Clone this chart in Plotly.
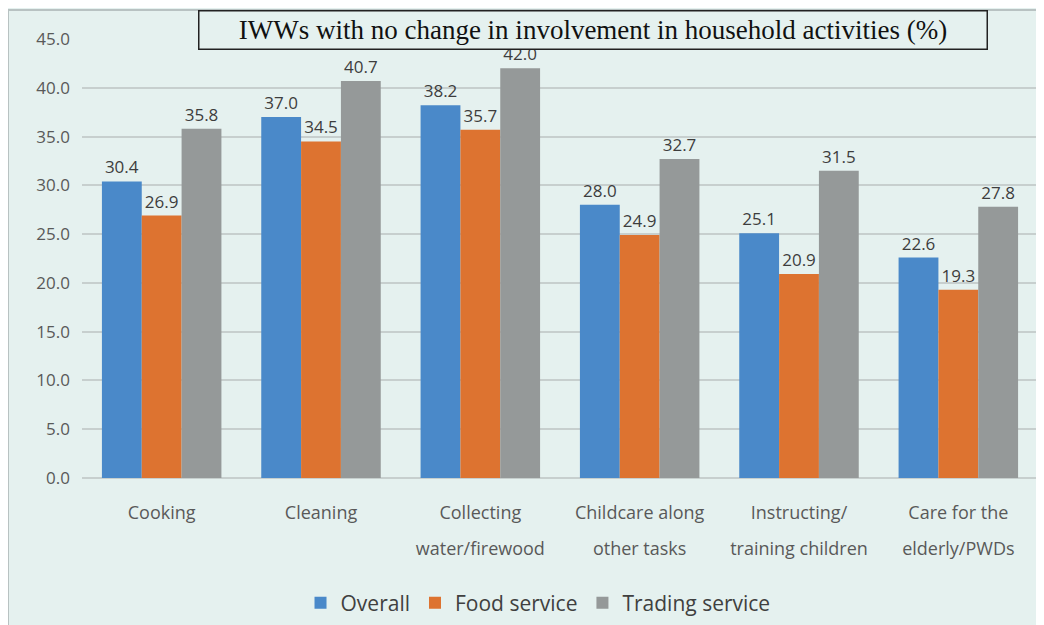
import plotly.graph_objects as go

line1 = ["Cooking", "Cleaning", "Collecting", "Childcare along", "Instructing/", "Care for the"]
line2 = ["", "", "water/firewood", "other tasks", "training children", "elderly/PWDs"]
overall = [30.4, 37.0, 38.2, 28.0, 25.1, 22.6]
food_service = [26.9, 34.5, 35.7, 24.9, 20.9, 19.3]
trading_service = [35.8, 40.7, 42.0, 32.7, 31.5, 27.8]

series = [("Overall", overall, "#4a89c9"),
          ("Food service", food_service, "#dd7330"),
          ("Trading service", trading_service, "#959999")]

bg = "#e5f1ef"
idx = list(range(len(line1)))
fig = go.Figure()
for name, vals, col in series:
    fig.add_trace(go.Bar(x=idx, y=vals, name=name, marker_color=col, marker_line_width=0,
                         text=[f"{v:.1f}" for v in vals], textposition="outside",
                         textfont=dict(size=17, color="#3d3d3d"), cliponaxis=False))

# page has an 8px body margin, so the margins are shifted by that
fig.update_layout(
    width=1044, height=625,
    paper_bgcolor=bg, plot_bgcolor=bg,
    margin=dict(l=74, r=14, t=31, b=155),
    barmode="group", bargap=0.25, bargroupgap=0,
    font=dict(family="Open Sans, DejaVu Sans, sans-serif", color="#595959"),
    showlegend=True,
    legend=dict(orientation="h", x=0.477, xanchor="center", yref="container", y=0.048, yanchor="middle",
                font=dict(size=21, color="#404040"), itemwidth=30, bgcolor="rgba(0,0,0,0)"),
    uniformtext=dict(mode="show", minsize=17),
)
fig.update_yaxes(range=[0, 45], dtick=5, tickformat=".1f", showgrid=True, gridcolor="#c7cfce", gridwidth=2,
                 zeroline=True, zerolinecolor="#c7cfce", zerolinewidth=2,
                 tickfont=dict(size=17, color="#595959"), ticklabelstandoff=11)
fig.update_xaxes(range=[-0.5, 5.5], tickvals=idx, ticktext=line1, showgrid=False, zeroline=False,
                 tickfont=dict(size=18, color="#595959"), ticklabelstandoff=22)
# second line of the category labels
fig.update_layout(xaxis2=dict(overlaying="x", side="bottom", range=[-0.5, 5.5], tickvals=idx, ticktext=line2,
                              showgrid=False, zeroline=False, showline=False,
                              tickfont=dict(size=18, color="#595959"), ticklabelstandoff=58))
fig.add_trace(go.Scatter(x=idx, y=[0] * len(idx), xaxis="x2", mode="markers", marker_opacity=0,
                         showlegend=False, hoverinfo="skip"))

# outer frame
fig.add_shape(type="rect", xref="paper", yref="paper", x0=-0.0774, x1=1.05, y0=-0.45, y1=1.066,
              line=dict(color="#b8c2c2", width=2), fillcolor="rgba(0,0,0,0)", layer="below")

# title box
fig.add_annotation(text="IWWs with no change in involvement in household activities (%)",
                   xref="paper", yref="paper", x=0.5345, y=1.066, xanchor="center", yanchor="top",
                   showarrow=False, font=dict(family="Liberation Serif, Times New Roman, serif", size=27, color="#111111"),
                   bordercolor="#222222", borderwidth=1.5, borderpad=0, bgcolor=bg, width=787, height=37)

fig.write_html("out.html")
